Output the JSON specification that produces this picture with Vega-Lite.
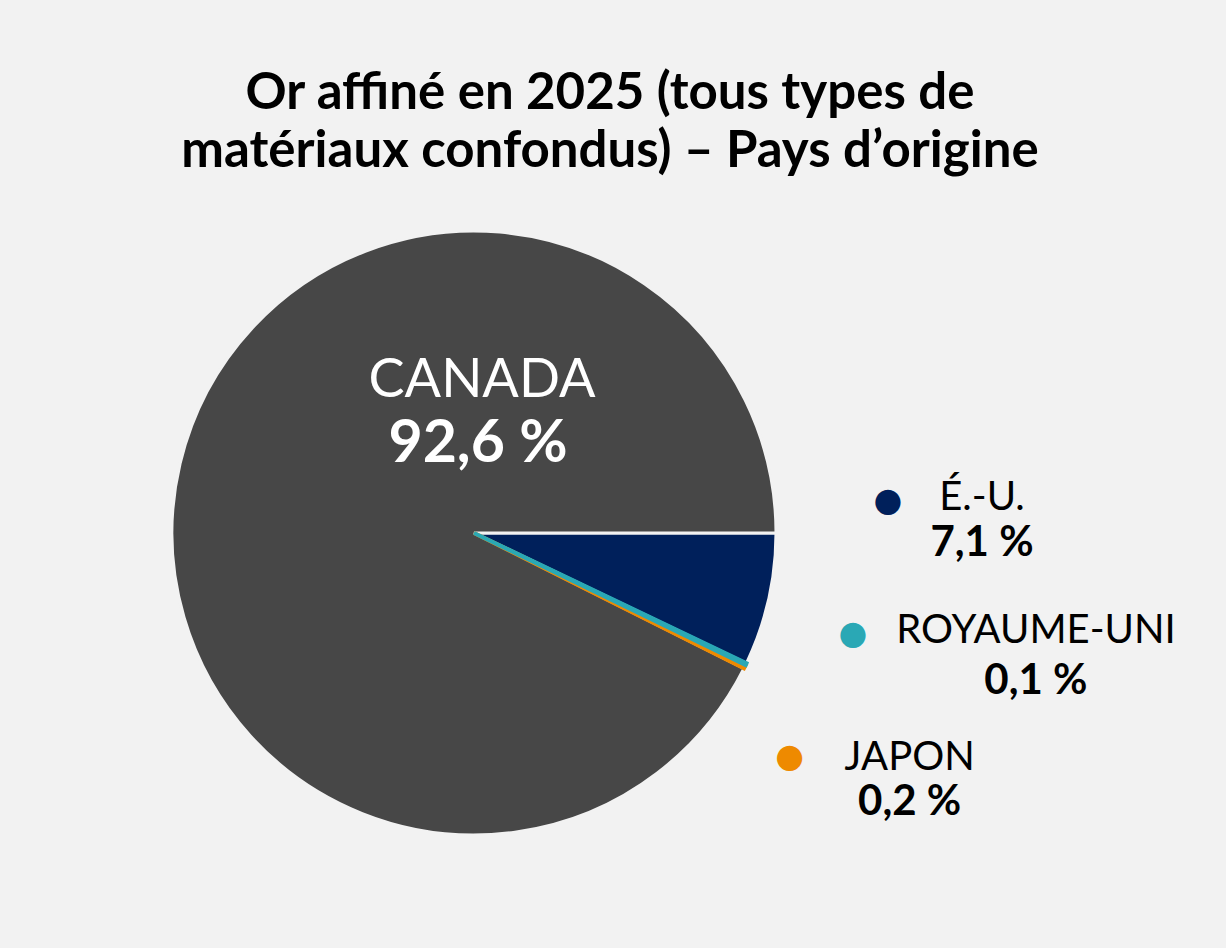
{
  "$schema": "https://vega.github.io/schema/vega-lite/v6.json",
  "width": 948,
  "height": 604,
  "autosize": {"type": "none"},
  "padding": {"left": 0, "top": 231, "right": 278, "bottom": 113},
  "background": "#F2F2F2",
  "title": {
    "text": ["Or affiné en 2025 (tous types de", "matériaux confondus) – Pays d’origine"],
    "font": "Lato",
    "fontSize": 51,
    "fontWeight": 700,
    "color": "#000000",
    "lineHeight": 58,
    "anchor": "middle",
    "frame": "group",
    "dx": 136,
    "offset": 47
  },
  "data": {
    "values": [
      {"country": "É.-U.", "share": 7.1, "rank": 1},
      {"country": "CANADA", "share": 92.6, "rank": 4},
      {"country": "JAPON", "share": 0.2, "rank": 3},
      {"country": "ROYAUME-UNI", "share": 0.1, "rank": 2}
    ]
  },
  "transform": [
    {"stack": "share", "groupby": [], "sort": [{"field": "rank", "order": "ascending"}], "as": ["s0", "s1"]},
    {"calculate": "replace(format(datum.share, '.1f'), '.', ',') + ' %'", "as": "pct"}
  ],
  "layer": [
    {
      "transform": [{"filter": "datum.rank == 1 || datum.rank == 4"}],
      "mark": {"type": "arc", "radius": 302, "stroke": "#F2F2F2", "strokeWidth": 3},
      "encoding": {
        "theta": {"field": "s0", "type": "quantitative", "stack": null, "scale": {"domain": [0, 100], "range": [1.5707963, 7.8539816]}},
        "theta2": {"field": "s1"},
        "color": {"field": "country", "type": "nominal", "legend": null, "scale": {"domain": ["É.-U.", "ROYAUME-UNI", "JAPON", "CANADA"], "range": ["#00205B", "#2AA8B5", "#EE8A00", "#474747"]}}
      }
    },
    {
      "transform": [{"filter": "datum.rank == 2 || datum.rank == 3"}],
      "mark": {"type": "arc", "radius": 302, "strokeWidth": 4},
      "encoding": {
        "theta": {"field": "s0", "type": "quantitative", "stack": null},
        "theta2": {"field": "s1"},
        "color": {"field": "country", "type": "nominal", "legend": null},
        "stroke": {"field": "country", "type": "nominal", "legend": null, "scale": {"domain": ["É.-U.", "ROYAUME-UNI", "JAPON", "CANADA"], "range": ["#00205B", "#2AA8B5", "#EE8A00", "#474747"]}}
      }
    },
    {
      "transform": [{"filter": "datum.rank == 4"}],
      "mark": {"type": "text", "font": "Lato", "fontSize": 54, "color": "#FFFFFF", "align": "center", "baseline": "alphabetic", "dx": 8, "dy": -136},
      "encoding": {"text": {"field": "country"}}
    },
    {
      "transform": [{"filter": "datum.rank == 4"}],
      "mark": {"type": "text", "font": "Lato", "fontSize": 59, "fontWeight": 700, "color": "#FFFFFF", "align": "center", "baseline": "alphabetic", "dx": 4, "dy": -71},
      "encoding": {"text": {"field": "pct"}}
    },
    {
      "transform": [{"filter": "datum.rank == 1"}],
      "mark": {"type": "text", "radius": 414, "text": "●", "font": "DejaVu Sans", "fontSize": 33, "align": "center", "baseline": "middle", "dy": -32},
      "encoding": {"theta": {"field": "s0", "type": "quantitative", "stack": null}, "color": {"field": "country", "type": "nominal", "legend": null}}
    },
    {
      "transform": [{"filter": "datum.rank == 1"}],
      "mark": {"type": "text", "radius": 414, "font": "Lato", "fontSize": 40, "color": "#000000", "align": "center", "baseline": "alphabetic", "dx": 94, "dy": -23},
      "encoding": {"theta": {"field": "s0", "type": "quantitative", "stack": null}, "text": {"field": "country"}}
    },
    {
      "transform": [{"filter": "datum.rank == 1"}],
      "mark": {"type": "text", "radius": 414, "font": "Lato", "fontSize": 42, "fontWeight": 700, "color": "#000000", "align": "center", "baseline": "alphabetic", "dx": 94, "dy": 23},
      "encoding": {"theta": {"field": "s0", "type": "quantitative", "stack": null}, "text": {"field": "pct"}}
    },
    {
      "transform": [{"filter": "datum.rank == 2"}],
      "mark": {"type": "text", "radius": 420, "text": "●", "font": "DejaVu Sans", "fontSize": 33, "align": "center", "baseline": "middle", "dy": -80},
      "encoding": {"theta": {"field": "s0", "type": "quantitative", "stack": null}, "color": {"field": "country", "type": "nominal", "legend": null}}
    },
    {
      "transform": [{"filter": "datum.rank == 2"}],
      "mark": {"type": "text", "radius": 420, "font": "Lato", "fontSize": 40, "color": "#000000", "align": "center", "baseline": "alphabetic", "dx": 183, "dy": -71},
      "encoding": {"theta": {"field": "s0", "type": "quantitative", "stack": null}, "text": {"field": "country"}}
    },
    {
      "transform": [{"filter": "datum.rank == 2"}],
      "mark": {"type": "text", "radius": 420, "font": "Lato", "fontSize": 42, "fontWeight": 700, "color": "#000000", "align": "center", "baseline": "alphabetic", "dx": 183, "dy": -20},
      "encoding": {"theta": {"field": "s0", "type": "quantitative", "stack": null}, "text": {"field": "pct"}}
    },
    {
      "transform": [{"filter": "datum.rank == 3"}],
      "mark": {"type": "text", "radius": 351, "text": "●", "font": "DejaVu Sans", "fontSize": 33, "align": "center", "baseline": "middle", "dy": 70.6},
      "encoding": {"theta": {"field": "s0", "type": "quantitative", "stack": null}, "color": {"field": "country", "type": "nominal", "legend": null}}
    },
    {
      "transform": [{"filter": "datum.rank == 3"}],
      "mark": {"type": "text", "radius": 351, "font": "Lato", "fontSize": 40, "color": "#000000", "align": "center", "baseline": "alphabetic", "dx": 120, "dy": 83.6},
      "encoding": {"theta": {"field": "s0", "type": "quantitative", "stack": null}, "text": {"field": "country"}}
    },
    {
      "transform": [{"filter": "datum.rank == 3"}],
      "mark": {"type": "text", "radius": 351, "font": "Lato", "fontSize": 42, "fontWeight": 700, "color": "#000000", "align": "center", "baseline": "alphabetic", "dx": 120, "dy": 129},
      "encoding": {"theta": {"field": "s0", "type": "quantitative", "stack": null}, "text": {"field": "pct"}}
    }
  ],
  "config": {"view": {"stroke": null}}
}
